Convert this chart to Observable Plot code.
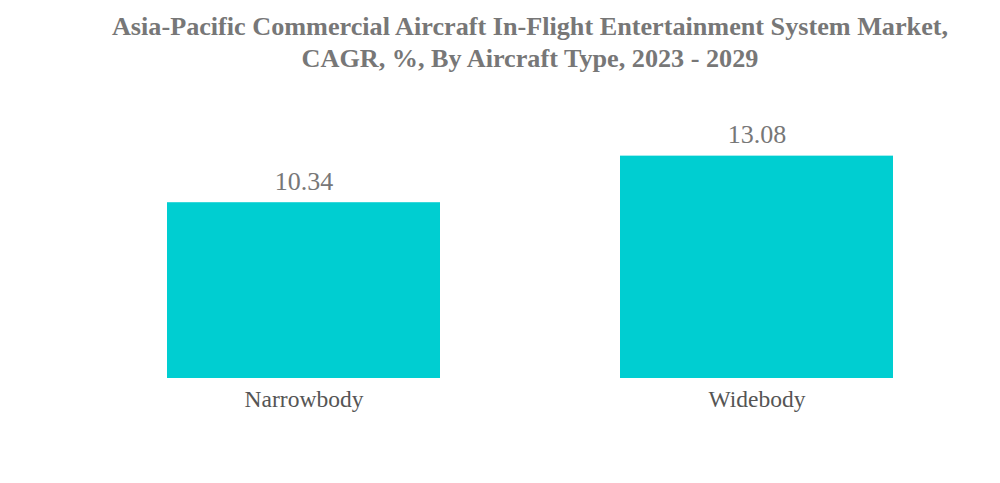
<!DOCTYPE html>
<html>
<head>
<meta charset="utf-8">
<script src="https://cdn.jsdelivr.net/npm/d3@7"></script>
<script src="https://cdn.jsdelivr.net/npm/@observablehq/plot@0.6"></script>
<style>
  html, body { margin: 0; padding: 0; background: #fff; }
  #wrap { position: relative; width: 1000px; height: 483px; overflow: hidden; }
  #title { position: absolute; left: 60px; width: 940px; top: 11px; text-align: center;
    font-family: "Liberation Serif", "DejaVu Serif", serif; font-weight: bold; font-size: 26.2px;
    line-height: 32px; color: #777; }
  #chart { position: absolute; left: 0; top: 0; }
</style>
</head>
<body>
<div id="wrap">
  <div id="chart"></div>
  <div id="title">Asia-Pacific Commercial Aircraft In-Flight Entertainment System Market,<br>CAGR, %, By Aircraft Type, 2023 - 2029</div>
</div>
<script>
const categories = ["Narrowbody", "Widebody"];
const values = [10.34, 13.08];
const labels = ["10.34", "13.08"];

const data = categories.map((c, i) => ({category: c, value: values[i], label: labels[i]}));

const chart = Plot.plot({
  width: 1000,
  height: 483,
  marginTop: 123,
  marginBottom: 105,
  marginLeft: 76,
  marginRight: 16,
  style: {fontFamily: "Liberation Serif, serif", background: "transparent"},
  x: {domain: categories, paddingInner: 0.398, paddingOuter: 0.2, label: null},
  y: {domain: [0, 15], axis: null},
  marks: [
    Plot.barY(data, {x: "category", y: "value", fill: "#00CED1"}),
    Plot.text(data, {x: "category", y: "value", text: "label", dy: -21, fontSize: 26, fill: "#777"}),
    Plot.axisX({tickSize: 0, tickPadding: 12, fontSize: 23.5, color: "#555", label: null})
  ]
});
document.getElementById("chart").appendChild(chart);
</script>
</body>
</html>
